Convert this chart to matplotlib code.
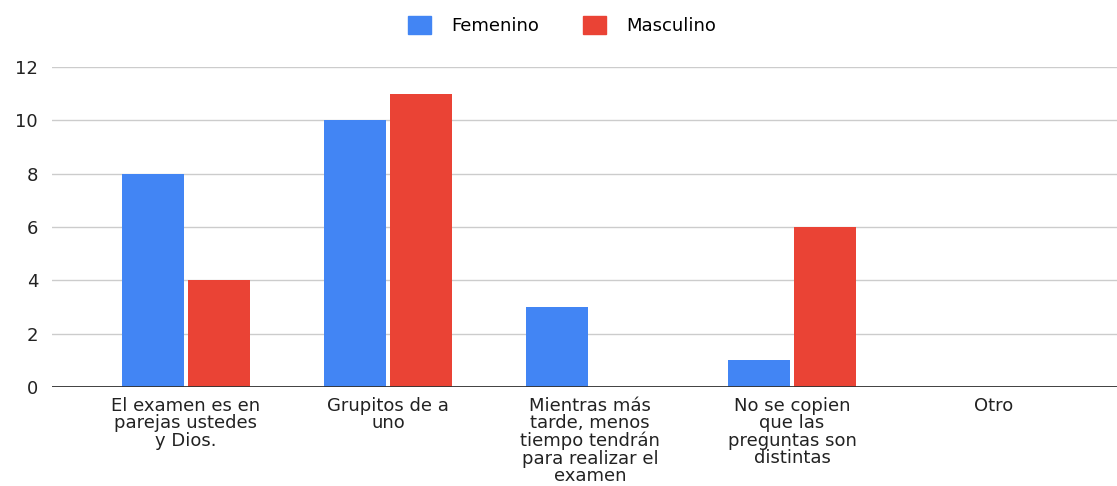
import matplotlib.pyplot as plt
import numpy as np
from matplotlib.patches import Patch

plt.rcParams['font.family'] = ['DejaVu Sans']

# datos
categorias = ["El examen es en\nparejas ustedes\ny Dios.",
              "Grupitos de a\nuno",
              "Mientras más\ntarde, menos\ntiempo tendrán\npara realizar el\nexamen",
              "No se copien\nque las\npreguntas son\ndistintas",
              "Otro"]
femenino = [8, 10, 3, 1, 0]
masculino = [4, 11, 0, 6, 0]
series = ["Femenino", "Masculino"]
colores = ["#4285F4", "#EA4335"]

fig = plt.figure(figsize=(11.17, 4.86), dpi=100)
ax = fig.add_axes([52 / 1117, 99 / 486, 1 - 52 / 1117, 320 / 486])

x = np.arange(len(categorias))
w = 0.307
ax.bar(x - 0.165, femenino, w, color=colores[0], zorder=3)
ax.bar(x + 0.165, masculino, w, color=colores[1], zorder=3)

ax.set_xlim(-0.663, 4.609)
ax.set_ylim(0, 12)
ax.set_yticks(range(0, 13, 2))
ax.yaxis.grid(True, color="#cccccc", linewidth=1, zorder=0)
ax.axhline(0, color="#333333", linewidth=1.3, zorder=4)

for s in ax.spines.values():
    s.set_visible(False)
ax.tick_params(axis="both", length=0, labelsize=13, colors="#222222")
ax.tick_params(axis="y", pad=10)
ax.set_xticks(x)
ax.set_xticklabels(categorias, fontsize=13, linespacing=0.96)
ax.tick_params(axis="x", pad=7)

handles = [Patch(color=c) for c in colores]
fig.legend(handles, series, loc="upper center", bbox_to_anchor=(0.503, 1.0),
           ncol=2, frameon=False, fontsize=13, handlelength=1.3, handleheight=1.1,
           columnspacing=2.4, handletextpad=1.1)

fig.savefig("out.png", dpi=100)
